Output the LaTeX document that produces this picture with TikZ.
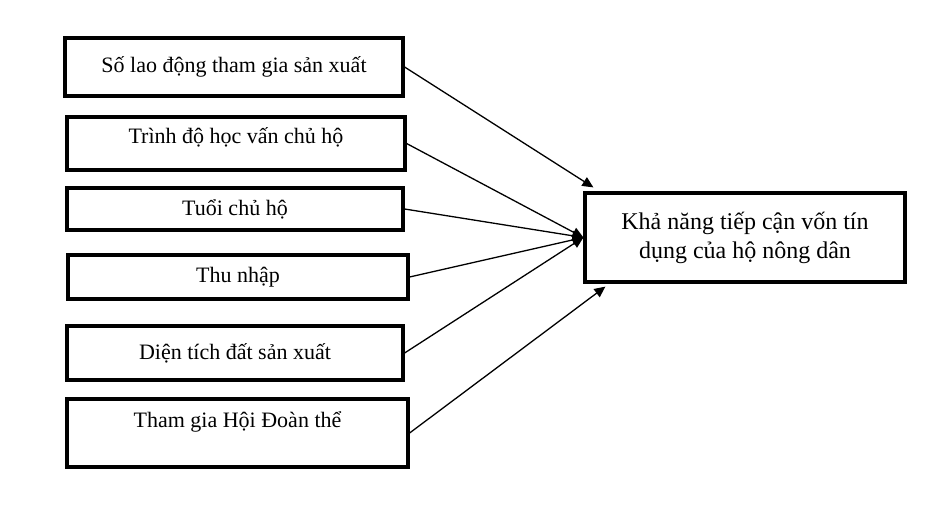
\documentclass[tikz,border=0pt]{standalone}
\usepackage{fontspec}
\setmainfont{Liberation Serif}
\usepackage{tikz}
\usetikzlibrary{arrows.meta}

\begin{document}
\begin{tikzpicture}[
  x=1pt, y=-1pt,
  box/.style={draw, line width=3.2pt, inner sep=2pt, align=center, font=\fontsize{22}{28}\selectfont},
  arrow/.style={-{Triangle[length=11pt,width=10pt]}, line width=1.3pt}
]
\useasboundingbox (0,0) rectangle (948,516);
% factors
\node[box, minimum width=338pt, minimum height=58pt] (lao) at (234,67) {Số lao động tham gia sản xuất};
\node[box, minimum width=338pt, minimum height=53pt, text depth=15pt] (hocvan) at (236,143.5) {Trình độ học vấn chủ hộ};
\node[box, minimum width=336pt, minimum height=42pt] (tuoi) at (235,209) {Tuổi chủ hộ};
\node[box, minimum width=340pt, minimum height=44pt] (thunhap) at (238,277) {Thu nhập};
\node[box, minimum width=336pt, minimum height=54pt] (dientich) at (235,353) {Diện tích đất sản xuất};
\node[box, minimum width=341pt, minimum height=68pt, text depth=27pt] (hoi) at (237.5,433) {Tham gia Hội Đoàn thể};
% outcome
\node[box, minimum width=320pt, minimum height=89pt, font=\fontsize{24}{29}\selectfont] (tiepcan) at (745,237.5) {Khả năng tiếp cận vốn tín\\ dụng của hộ nông dân};
\coordinate (top) at ([xshift=10pt,yshift=4pt]tiepcan.north west);
\coordinate (bot) at ([xshift=22pt,yshift=-3pt]tiepcan.south west);
\draw[arrow] (lao.east) -- (top);
\draw[arrow] (hocvan.east) -- (tiepcan.west);
\draw[arrow] (tuoi.east) -- (tiepcan.west);
\draw[arrow] (thunhap.east) -- (tiepcan.west);
\draw[arrow] (dientich.east) -- (tiepcan.west);
\draw[arrow] (hoi.east) -- (bot);
\end{tikzpicture}
\end{document}
